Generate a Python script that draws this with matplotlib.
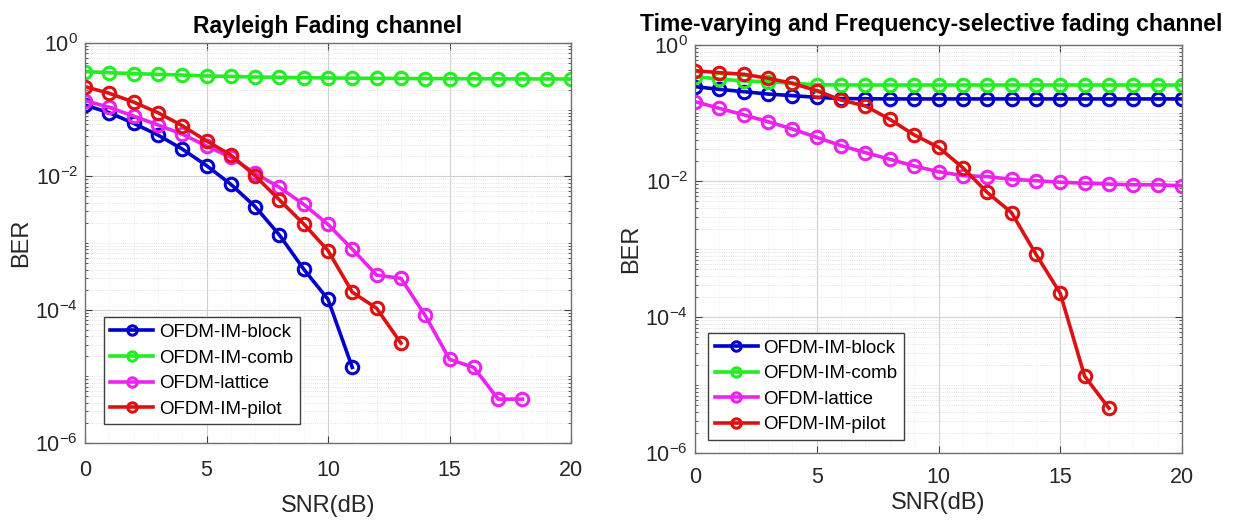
import numpy as np
import matplotlib
matplotlib.use("Agg")
import matplotlib.pyplot as plt
from matplotlib.ticker import LogLocator, FixedLocator, NullFormatter

plt.rcParams['font.family'] = ['Liberation Sans', 'DejaVu Sans']
plt.rcParams['mathtext.fontset'] = 'custom'
plt.rcParams['mathtext.rm'] = 'Liberation Sans'

snr = list(range(0, 21))
labels = ['OFDM-IM-block', 'OFDM-IM-comb', 'OFDM-lattice', 'OFDM-IM-pilot']
colors = ['#0000CC', '#22EE22', '#EE22EE', '#DD1111']

# Rayleigh fading channel
ray_block = [0.117, 0.090, 0.0624, 0.0417, 0.0257, 0.0145, 0.0076, 0.00352, 0.00132, 4.05e-4, 1.43e-4, 1.36e-5]
ray_comb = [0.372, 0.359, 0.347, 0.339, 0.331, 0.320, 0.316, 0.309, 0.306, 0.302, 0.299,
            0.297, 0.295, 0.294, 0.293, 0.292, 0.291, 0.290, 0.289, 0.289, 0.288]
ray_lattice = [0.137, 0.108, 0.080, 0.059, 0.043, 0.0285, 0.0193, 0.0111, 0.00684, 0.0038, 0.0019,
               8.1e-4, 3.3e-4, 2.95e-4, 8.2e-5, 1.8e-5, 1.36e-5, 4.55e-6, 4.55e-6]
ray_pilot = [0.221, 0.176, 0.130, 0.090, 0.0576, 0.034, 0.0209, 0.0102, 0.00443, 0.00193, 7.7e-4,
             1.83e-4, 1.05e-4, 3.15e-5]

# Time-varying and frequency-selective fading channel
tv_block = [0.244, 0.223, 0.206, 0.190, 0.180, 0.170, 0.163, 0.162, 0.161, 0.161, 0.161,
            0.161, 0.161, 0.161, 0.161, 0.161, 0.161, 0.161, 0.161, 0.161, 0.161]
tv_comb = [0.342, 0.316, 0.296, 0.289, 0.273, 0.260, 0.259, 0.258, 0.258, 0.258, 0.258,
           0.258, 0.258, 0.258, 0.258, 0.258, 0.258, 0.258, 0.258, 0.258, 0.258]
tv_lattice = [0.147, 0.117, 0.094, 0.0745, 0.0582, 0.0438, 0.0331, 0.0261, 0.0209, 0.0166, 0.0137,
              0.0120, 0.0116, 0.0106, 0.0101, 0.0096, 0.0093, 0.0090, 0.0088, 0.0088, 0.0085]
tv_pilot = [0.419, 0.392, 0.371, 0.324, 0.273, 0.213, 0.155, 0.127, 0.0807, 0.0477, 0.0313,
            0.0157, 0.0068, 0.00342, 8.4e-4, 2.23e-4, 1.35e-5, 4.55e-6]

titles = ['Rayleigh Fading channel', 'Time-varying and Frequency-selective fading channel']
xticks = [0, 5, 10, 15, 20]

W, H = 1234, 522
fig = plt.figure(figsize=(W / 100, H / 100), dpi=100)
ax1 = fig.add_axes([85 / W, (H - 443) / H, 486 / W, 400 / H])
ax2 = fig.add_axes([695 / W, (H - 453) / H, 487 / W, 408 / H])

datasets = [[ray_block, ray_comb, ray_lattice, ray_pilot],
            [tv_block, tv_comb, tv_lattice, tv_pilot]]

for i, (ax, data) in enumerate(zip([ax1, ax2], datasets)):
    for series, lab, c in zip(data, labels, colors):
        ax.semilogy(snr[:len(series)], series, '-o', color=c, lw=2.6, ms=9,
                    mfc='none', mew=2.2, label=lab)
    ax.set_xlim(0, 20)
    ax.set_ylim(1e-6, 1)
    ax.set_xticks(xticks)
    ax.yaxis.set_major_locator(FixedLocator([1e-6, 1e-4, 1e-2, 1e0]))
    ax.yaxis.set_minor_locator(LogLocator(base=10, subs=np.arange(1, 10), numticks=20))
    ax.yaxis.set_minor_formatter(NullFormatter())
    ax.grid(True, which='major', color='#d0d0d0', lw=0.8, ls='-')
    ax.grid(True, which='minor', axis='y', color='#d8d8d8', lw=0.6, ls=':')
    ax.xaxis.set_minor_locator(FixedLocator(np.arange(0, 20.01, 1.0)))
    ax.grid(True, which='minor', axis='x', color='#e6e6e6', lw=0.5, ls=':')
    ax.tick_params(which='both', direction='in', top=True, right=True, labelsize=15.5,
                   colors='#404040', labelcolor='#262626')
    ax.tick_params(which='minor', length=2.5)
    ax.tick_params(which='major', length=5)
    ax.tick_params(axis='x', which='minor', length=0)
    ax.tick_params(axis='x', which='major', pad=(12 if i == 0 else 10))
    ax.tick_params(axis='y', which='major', pad=5)
    for sp in ax.spines.values():
        sp.set_color('#707070')
        sp.set_linewidth(1.0)
    ax.set_xlabel('SNR(dB)', fontsize=17, color='#262626', labelpad=(10 if i == 0 else 3))
    ax.set_ylabel('BER', fontsize=17, color='#262626', labelpad=2)
    ax.set_axisbelow(True)
    leg = ax.legend(loc='lower left', fontsize=13.5, frameon=True, fancybox=False,
                    handlelength=2.3, handletextpad=0.3, borderpad=0.35, labelspacing=0.45,
                    borderaxespad=(1.0 if i == 0 else 0.7), markerscale=0.75)
    leg.get_frame().set_edgecolor('#404040')
    leg.get_frame().set_linewidth(1.0)
    leg.get_frame().set_alpha(1)

ax1.set_title(titles[0], fontsize=16.5, fontweight='bold', pad=7)
ax2.set_title(titles[1], fontsize=16.5, fontweight='bold', pad=10, x=0.485)

fig.savefig('out.png', dpi=100)
